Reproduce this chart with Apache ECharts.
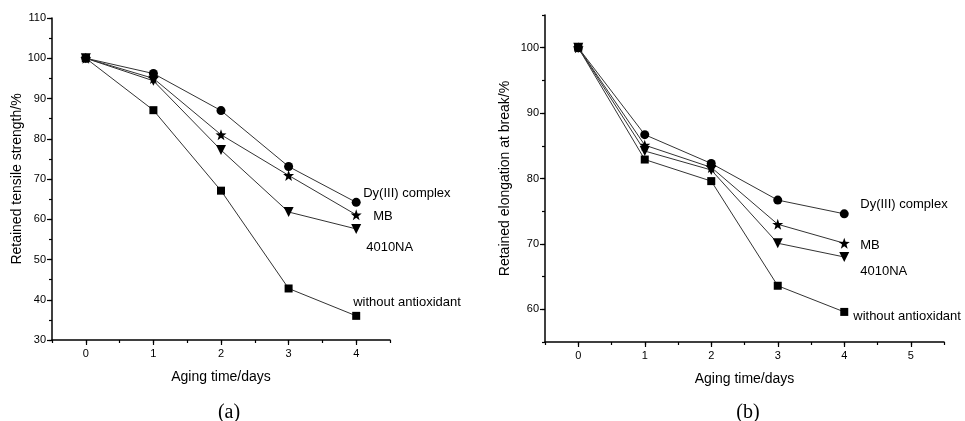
<!DOCTYPE html>
<html><head><meta charset="utf-8">
<script src="https://cdn.jsdelivr.net/npm/echarts@6/dist/echarts.min.js"></script>
<style>html,body{margin:0;padding:0;background:#fff}#c{width:965px;height:421px}</style>
</head><body><div id="c"></div>
<script>
const days = [0, 1, 2, 3, 4];
const seriesNames = ['Dy(III) complex', 'MB', '4010NA', 'without antioxidant'];
// (a) Retained tensile strength /%
const tensileDy = [100, 96.2, 87.0, 73.1, 64.2];
const tensileMB = [100, 95.0, 81.0, 70.9, 61.1];
const tensile4010 = [100, 94.4, 77.2, 61.8, 57.6];
const tensileNone = [100, 87.1, 67.1, 42.8, 36.0];
// (b) Retained elongation at break /%
const elongDy = [100, 86.7, 82.3, 76.7, 74.6];
const elongMB = [100, 85.1, 81.7, 73.0, 70.1];
const elong4010 = [100, 84.2, 81.3, 70.1, 68.0];
const elongNone = [100, 82.9, 79.6, 63.6, 59.6];
// tick labels
const xTicksA = [0, 1, 2, 3, 4];
const xTicksB = [0, 1, 2, 3, 4, 5];
const yTicksA = [30, 40, 50, 60, 70, 80, 90, 100, 110];
const yTicksB = [60, 70, 80, 90, 100];

const STAR = 'path://M0,-10 L2.35,-3.24 L9.51,-3.09 L3.8,1.24 L5.88,8.09 L0,4 L-5.88,8.09 L-3.8,1.24 L-9.51,-3.09 L-2.35,-3.24 Z';
const symbols = [
  {symbol: 'circle', size: 9, rotate: 0},
  {symbol: STAR, size: 11, rotate: 0},
  {symbol: 'triangle', size: 10, rotate: 180},
  {symbol: 'rect', size: 8, rotate: 0}
];
const font = 'Liberation Sans, Arial, sans-serif';
const labelOffsetsA = [[7, -9], [17, 2], [10, 19], [-3, -13]];
const labelOffsetsB = [[16, -9], [16, 2], [16, 14], [9, 5]];

function pair(xs, ys) { return xs.map((x, i) => [x, ys[i]]); }

function mkSeries(dataSets, gi, offsets) {
  return dataSets.map((d, i) => ({
    type: 'line',
    name: seriesNames[i],
    xAxisIndex: gi * 2, yAxisIndex: gi * 2,
    data: pair(days, d),
    symbol: symbols[i].symbol,
    symbolSize: symbols[i].size,
    symbolRotate: symbols[i].rotate,
    showAllSymbol: true,
    lineStyle: {color: '#333', width: 1},
    itemStyle: {color: '#000', borderWidth: 0},
    animation: false,
    endLabel: {
      show: true, formatter: seriesNames[i], distance: 0,
      offset: offsets[i], color: '#000', fontSize: 13, fontFamily: font
    },
    z: 2 + i
  }));
}

const lineStyle = {color: '#000', width: 1.5};
function xAxes(gi, max, ticks) {
  const base = {
    type: 'value', gridIndex: gi, min: -0.5, max: max, position: 'bottom',
    splitLine: {show: false}
  };
  return [
    Object.assign({}, base, {
      interval: 0.5,
      name: 'Aging time/days', nameLocation: 'middle', nameGap: 30,
      nameTextStyle: {fontSize: 14, color: '#000', fontFamily: font},
      axisLine: {show: true, onZero: false, lineStyle: lineStyle},
      axisTick: {show: true, length: 5, customValues: ticks, lineStyle: {color: '#000', width: 1.2}},
      axisLabel: {fontSize: 11, color: '#000', fontFamily: font, margin: 8, customValues: ticks}
    }),
    Object.assign({}, base, {
      interval: 0.5,
      axisLine: {show: false, onZero: false},
      axisTick: {show: true, length: 3, lineStyle: {color: '#000', width: 1.2}},
      axisLabel: {show: false}
    })
  ];
}
function yAxes(gi, min, max, name, gap, ticks) {
  const base = {
    type: 'value', gridIndex: gi, min: min, max: max, position: 'left',
    splitLine: {show: false}
  };
  return [
    Object.assign({}, base, {
      interval: 5,
      name: name, nameLocation: 'middle', nameGap: gap, nameRotate: 90,
      nameTextStyle: {fontSize: 14, color: '#000', fontFamily: font},
      axisLine: {show: true, onZero: false, lineStyle: lineStyle},
      axisTick: {show: true, length: 5, customValues: ticks, lineStyle: {color: '#000', width: 1.2}},
      axisLabel: {fontSize: 11, color: '#000', fontFamily: font, margin: 6, customValues: ticks}
    }),
    Object.assign({}, base, {
      interval: 5,
      axisLine: {show: false, onZero: false},
      axisTick: {show: true, length: 3, lineStyle: {color: '#000', width: 1.2}},
      axisLabel: {show: false}
    })
  ];
}

const chart = echarts.init(document.getElementById('c'), null, {renderer: 'canvas'});
chart.setOption({
  backgroundColor: '#fff',
  animation: false,
  title: [
    {text: '(a)', left: 224, top: 398, textAlign: 'center',
     textStyle: {fontFamily: 'Liberation Serif, Times New Roman, serif', fontSize: 20, fontWeight: 'normal', color: '#000'}},
    {text: '(b)', left: 743, top: 398, textAlign: 'center',
     textStyle: {fontFamily: 'Liberation Serif, Times New Roman, serif', fontSize: 20, fontWeight: 'normal', color: '#000'}}
  ],
  grid: [
    {left: 52, right: 575, top: 18, bottom: 81},
    {left: 545, right: 21, top: 15, bottom: 79}
  ],
  xAxis: [...xAxes(0, 4.5, xTicksA), ...xAxes(1, 5.5, xTicksB)],
  yAxis: [
    ...yAxes(0, 30, 110, 'Retained tensile strength/%', 27, yTicksA),
    ...yAxes(1, 55, 105, 'Retained elongation at break/%', 33, yTicksB)
  ],
  series: [
    ...mkSeries([tensileDy, tensileMB, tensile4010, tensileNone], 0, labelOffsetsA),
    ...mkSeries([elongDy, elongMB, elong4010, elongNone], 1, labelOffsetsB)
  ]
});
</script></body></html>
